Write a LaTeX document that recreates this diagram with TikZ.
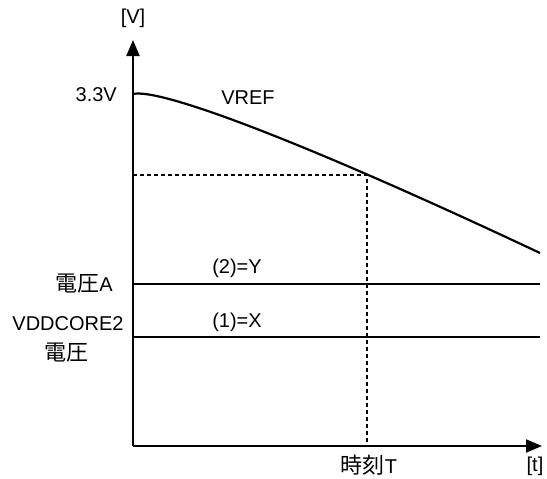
\documentclass[tikz,border=0pt]{standalone}
\usepackage{fontspec}
\setmainfont{Liberation Sans}
\newfontfamily\jpfont[Scale=1.1]{Noto Sans CJK JP}
\usetikzlibrary{arrows.meta}
\begin{document}
\begin{tikzpicture}[x=1pt,y=-1pt,
  axis/.style={line width=2.2pt,-{Triangle[length=16pt,width=13pt]}},
  sig/.style={line width=2.2pt},
  guide/.style={line width=1.8pt,dash pattern=on 4pt off 3pt},
  lbl/.style={inner sep=0pt,font=\fontsize{20}{24}\selectfont}]
\useasboundingbox (0,0) rectangle (547,479);
\coordinate (O) at (133,446);
\coordinate (Ytop) at (133,40);
\coordinate (Xend) at (542,446);
\draw[axis] (O) -- (Ytop);
\draw[axis] (O) -- (Xend);
% VREF curve
\coordinate (c0) at (133,94);
\coordinate (c3) at (540,253);
\coordinate (P) at (367,175);
\draw[sig] (c0) .. controls (160,88) and (300,140) .. (c3);
\coordinate (Pl) at (133,175);
\coordinate (Pb) at (367,446);
\draw[guide] (Pl) -- (P) -- (Pb);
% levels
\coordinate (Aa) at (133,284);
\coordinate (Ab) at (540,284);
\coordinate (Xa) at (133,337);
\coordinate (Xb) at (540,337);
\draw[sig] (Aa) -- (Ab);
\draw[sig] (Xa) -- (Xb);
% labels
\node[lbl] (lv) at (133,18) {[V]};
\node[lbl,anchor=east] (l33) at (117,95) {3.3V};
\node[lbl] (lvref) at (248,98) {VREF};
\node[lbl] (lA) at (84,284) {{\jpfont 電圧}A};
\node[lbl] (lY) at (237,268) {(2)=Y};
\node[lbl] (lX) at (237,322) {(1)=X};
\node[lbl] (lvdd) at (68,324) {VDDCORE2};
\node[lbl] (lvdd2) at (67,353) {\jpfont 電圧};
\node[lbl] (lT) at (369,465) {{\jpfont 時刻}T};
\node[lbl] (lt) at (535,466) {[t]};
\end{tikzpicture}
\end{document}
